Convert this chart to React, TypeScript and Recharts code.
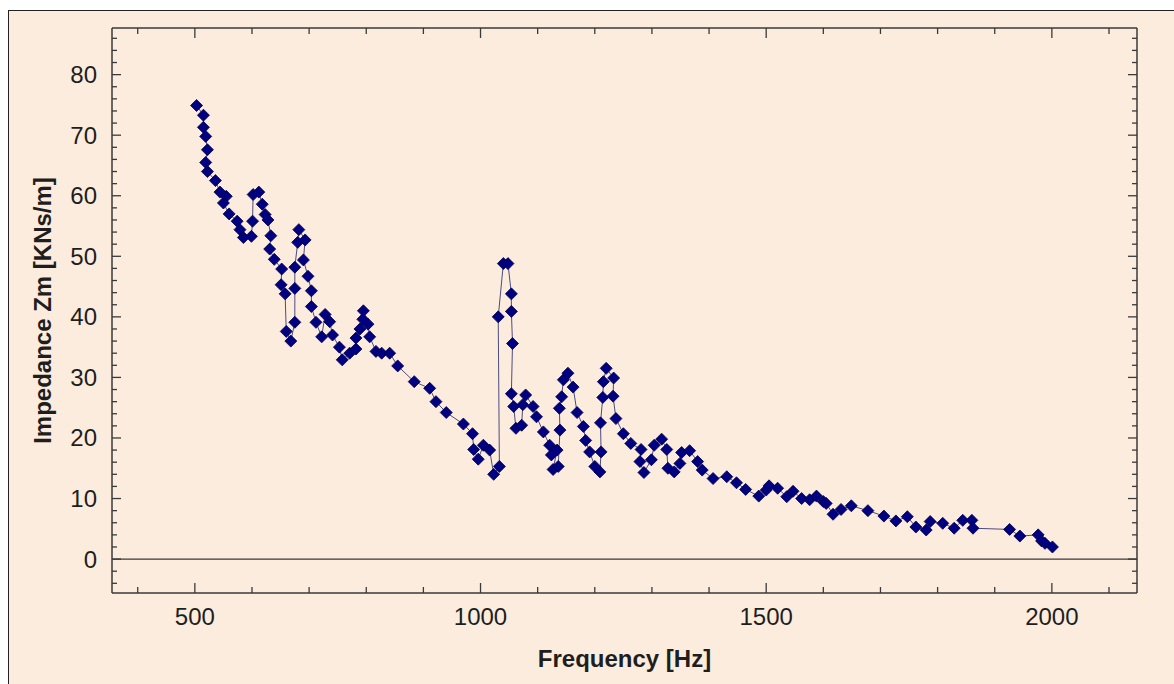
import React from 'react';
import { LineChart, Line, XAxis, YAxis, ReferenceLine } from 'recharts';

const frequencies = [
  503, 515, 515, 519, 522, 519, 522, 536, 544, 555, 550, 560, 574, 579, 585,
  599, 601, 602, 612, 618, 623, 628, 633, 631, 639, 652, 651, 658, 660, 668,
  675, 675, 675, 680, 682, 693, 690, 698, 704, 704, 712, 722, 728, 736, 741,
  753, 758, 771, 782, 782, 789, 794, 795, 803, 806, 817, 827, 841, 855, 884,
  911, 922, 940, 970, 986, 988, 996, 1005, 1016, 1023, 1033, 1031, 1040, 1048, 1054,
  1054, 1056, 1054, 1058, 1062, 1072, 1074, 1079, 1092, 1098, 1110, 1121, 1124, 1134, 1127,
  1136, 1139, 1138, 1142, 1145, 1153, 1162, 1169, 1180, 1184, 1191, 1200, 1209, 1211, 1210,
  1214, 1215, 1220, 1233, 1232, 1237, 1250, 1263, 1281, 1279, 1286, 1299, 1304, 1317, 1326,
  1328, 1339, 1349, 1352, 1366, 1380, 1388, 1407, 1431, 1448, 1464, 1487, 1500, 1505, 1520,
  1536, 1547, 1562, 1576, 1588, 1600, 1605, 1617, 1631, 1649, 1678, 1706, 1727, 1747, 1762,
  1780, 1787, 1809, 1829, 1844, 1860, 1862, 1926, 1944, 1976, 1982, 1988, 2001,
];

const impedance = [
  74.9, 73.3, 71.3, 69.8, 67.6, 65.5, 64.0, 62.5, 60.6, 59.9, 58.8, 57.0, 55.8, 54.4, 53.1,
  53.3, 55.8, 60.2, 60.6, 58.6, 56.9, 56.0, 53.4, 51.2, 49.5, 47.9, 45.3, 43.8, 37.6, 36.0,
  39.1, 44.7, 48.2, 52.3, 54.4, 52.7, 49.4, 46.7, 44.3, 41.7, 39.1, 36.7, 40.4, 39.2, 37.0,
  35.0, 32.9, 34.0, 34.7, 36.5, 38.0, 39.6, 41.0, 38.8, 36.7, 34.3, 34.0, 34.0, 31.9, 29.3,
  28.2, 26.0, 24.2, 22.3, 20.7, 18.1, 16.5, 18.8, 18.0, 14.0, 15.3, 40.0, 48.8, 48.8, 43.8,
  40.9, 35.6, 27.3, 25.2, 21.6, 22.1, 25.5, 27.1, 25.2, 23.5, 21.0, 18.8, 17.2, 18.0, 14.8,
  15.3, 21.3, 24.9, 26.8, 29.6, 30.7, 28.4, 24.2, 21.9, 19.6, 17.7, 15.3, 14.4, 17.7, 22.5,
  26.7, 29.3, 31.5, 29.9, 26.9, 23.2, 20.7, 19.1, 18.1, 16.1, 14.3, 16.4, 18.8, 19.8, 18.1,
  15.0, 14.4, 15.8, 17.6, 17.9, 16.1, 14.7, 13.3, 13.6, 12.6, 11.5, 10.4, 11.4, 12.1, 11.7,
  10.3, 11.2, 10.0, 9.8, 10.4, 9.5, 9.2, 7.4, 8.2, 8.8, 8.0, 7.1, 6.3, 7.0, 5.3,
  4.8, 6.2, 5.9, 5.1, 6.4, 6.4, 5.1, 4.9, 3.8, 4.0, 3.0, 2.6, 2.0,
];

const xTicks = [400, 500, 600, 700, 800, 900, 1000, 1100, 1200, 1300, 1400, 1500, 1600, 1700, 1800, 1900, 2000, 2100];
const xLabels = [500, 1000, 1500, 2000];
const yTicks = [
  -4, -2, 0, 2, 4, 6, 8, 10, 12, 14, 16, 18, 20, 22, 24, 26, 28, 30, 32, 34, 36, 38, 40, 42,
  44, 46, 48, 50, 52, 54, 56, 58, 60, 62, 64, 66, 68, 70, 72, 74, 76, 78, 80, 82, 84, 86,
];
const yLabels = [0, 10, 20, 30, 40, 50, 60, 70, 80];

const data = frequencies.map((f, i) => ({ f, z: impedance[i] }));

const BG = '#fcecdd';
const AXIS = '#3a3a3a';
const TEXT = '#1e1e1e';
const FONT = 'Arial, "Liberation Sans", sans-serif';
const X_DOMAIN = [355, 2149];
const Y_DOMAIN = [-5.6, 87.7];

// ticks are drawn by hand so they point into the plot (tickSize/tickMargin = 0 puts x,y on the axis line)
const BottomTick = (props: any) => {
  const { x, y, payload } = props;
  const major = xLabels.includes(payload.value);
  return (
    <g>
      <line x1={x} y1={y} x2={x} y2={y - (major ? 10 : 6)} stroke={AXIS} strokeWidth={1.3} />
      {major && (
        <text x={x} y={y + 32} textAnchor="middle" fontSize={24} fontFamily={FONT} fill={TEXT}>
          {payload.value}
        </text>
      )}
    </g>
  );
};

const TopTick = (props: any) => {
  const { x, y, payload } = props;
  const major = xLabels.includes(payload.value);
  return <line x1={x} y1={y} x2={x} y2={y + (major ? 10 : 6)} stroke={AXIS} strokeWidth={1.3} />;
};

const LeftTick = (props: any) => {
  const { x, y, payload } = props;
  const major = payload.value % 10 === 0;
  return (
    <g>
      <line x1={x} y1={y} x2={x + (major ? 9 : 5)} y2={y} stroke={AXIS} strokeWidth={1.3} />
      {yLabels.includes(payload.value) && (
        <text x={x - 15} y={y + 8.5} textAnchor="end" fontSize={24} fontFamily={FONT} fill={TEXT}>
          {payload.value}
        </text>
      )}
    </g>
  );
};

const RightTick = (props: any) => {
  const { x, y, payload } = props;
  const major = payload.value % 10 === 0;
  return <line x1={x} y1={y} x2={x - (major ? 9 : 5)} y2={y} stroke={AXIS} strokeWidth={1.3} />;
};

const XTitle = (props: any) => {
  const { viewBox } = props;
  return (
    <text
      x={viewBox.x + viewBox.width / 2}
      y={viewBox.y + 74}
      textAnchor="middle"
      fontSize={24}
      fontWeight="bold"
      fontFamily={FONT}
      fill={TEXT}
    >
      Frequency [Hz]
    </text>
  );
};

const YTitle = (props: any) => {
  const { viewBox } = props;
  const cx = viewBox.x + 33;
  const cy = viewBox.y + viewBox.height / 2;
  return (
    <text
      x={cx}
      y={cy}
      transform={`rotate(-90 ${cx} ${cy})`}
      textAnchor="middle"
      dominantBaseline="central"
      fontSize={24}
      fontWeight="bold"
      fontFamily={FONT}
      fill={TEXT}
    >
      Impedance Zm [KNs/m]
    </text>
  );
};

const Diamond = (props: any) => {
  const { cx, cy } = props;
  if (cx == null || cy == null) return <g />;
  const r = 6;
  return (
    <path
      d={`M${cx},${cy - r}L${cx + r},${cy}L${cx},${cy + r}L${cx - r},${cy}Z`}
      fill="#000080"
      stroke="#00004a"
      strokeWidth={0.8}
    />
  );
};

const App: React.FC = () => {
  return (
    <div
      style={{
        position: 'absolute',
        left: 8,
        top: 10,
        width: 1166,
        height: 674,
        boxSizing: 'border-box',
        borderTop: '1px solid #222',
        borderLeft: '1px solid #222',
        background: BG,
      }}
    >
      <LineChart width={1165} height={673} data={data} margin={{ top: 16, right: 36, left: 0, bottom: 0 }}>
        <XAxis
          dataKey="f"
          type="number"
          domain={X_DOMAIN}
          allowDataOverflow
          ticks={xTicks}
          interval={0}
          tickSize={0}
          tickMargin={0}
          tickLine={false}
          tick={BottomTick}
          height={91}
          axisLine={{ stroke: AXIS, strokeWidth: 1.5 }}
          label={<XTitle />}
        />
        <XAxis
          xAxisId="top"
          orientation="top"
          dataKey="f"
          type="number"
          domain={X_DOMAIN}
          allowDataOverflow
          ticks={xTicks}
          interval={0}
          tickSize={0}
          tickMargin={0}
          tickLine={false}
          tick={TopTick}
          height={1}
          axisLine={{ stroke: AXIS, strokeWidth: 1.5 }}
        />
        <YAxis
          type="number"
          domain={Y_DOMAIN}
          allowDataOverflow
          ticks={yTicks}
          interval={0}
          tickSize={0}
          tickMargin={0}
          tickLine={false}
          tick={LeftTick}
          width={103}
          axisLine={{ stroke: AXIS, strokeWidth: 1.5 }}
          label={<YTitle />}
        />
        <YAxis
          yAxisId="right"
          orientation="right"
          type="number"
          domain={Y_DOMAIN}
          allowDataOverflow
          ticks={yTicks}
          interval={0}
          tickSize={0}
          tickMargin={0}
          tickLine={false}
          tick={RightTick}
          width={1}
          axisLine={{ stroke: AXIS, strokeWidth: 1.5 }}
        />
        <ReferenceLine y={0} stroke={AXIS} strokeWidth={1.3} />
        {/* invisible twin so the top/right frame axes get drawn */}
        <Line
          xAxisId="top"
          yAxisId="right"
          dataKey="z"
          stroke="none"
          dot={false}
          activeDot={false}
          legendType="none"
          isAnimationActive={false}
        />
        <Line
          dataKey="z"
          stroke="#4c4c80"
          strokeWidth={1}
          isAnimationActive={false}
          dot={(p: any) => <Diamond key={`d-${p.index}`} {...p} />}
          activeDot={false}
        />
      </LineChart>
    </div>
  );
};

export default App;
